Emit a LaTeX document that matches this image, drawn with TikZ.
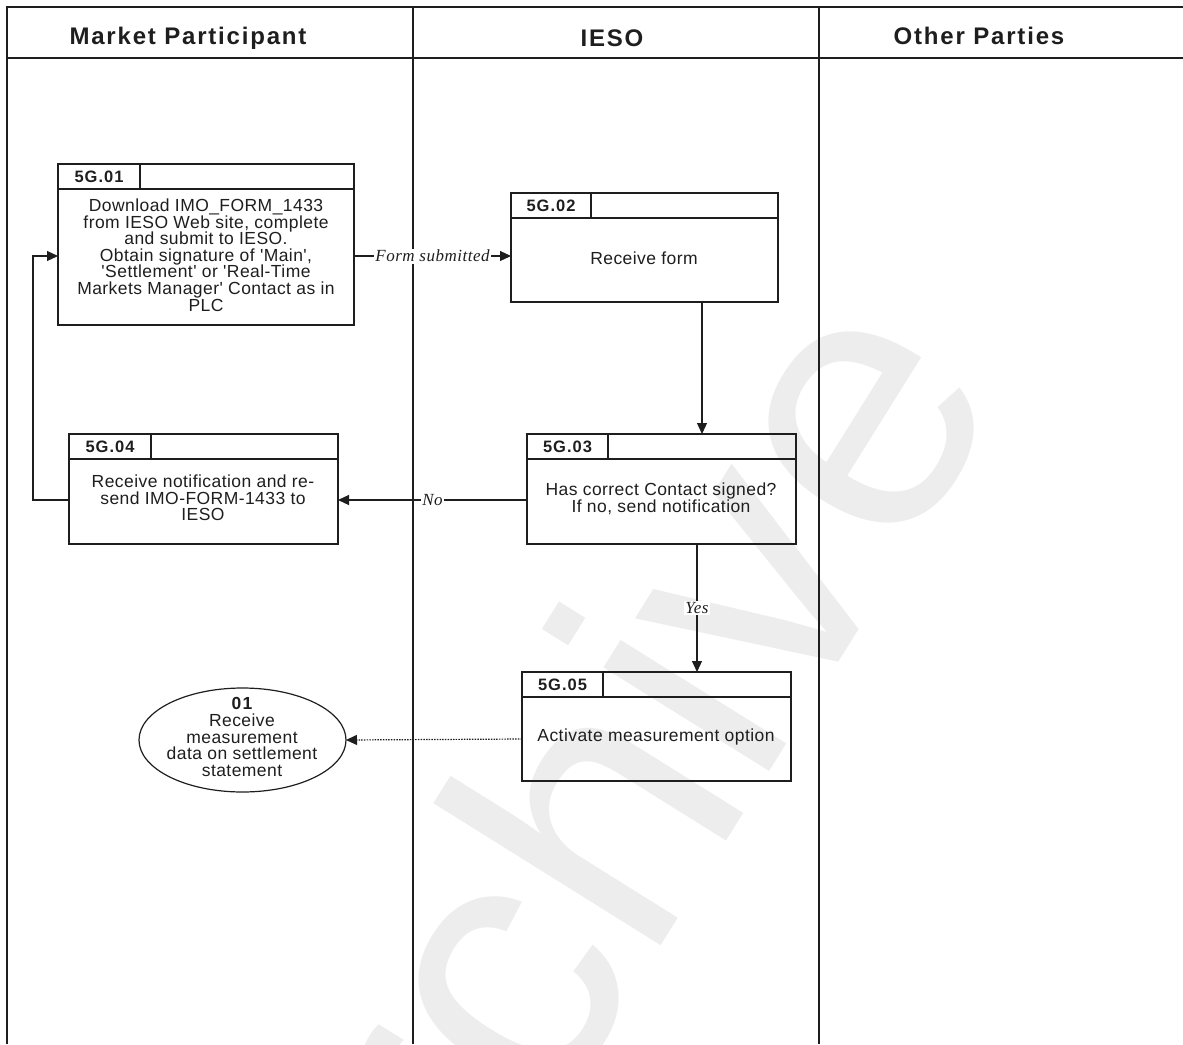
\documentclass[tikz,border=0pt]{standalone}
\usepackage{fontspec}
\setmainfont{Liberation Sans}
\newfontfamily\hdrfont[LetterSpace=7.5]{Liberation Sans}
\newfontfamily\idfont[LetterSpace=6]{Liberation Sans}
\newfontfamily\bodyfont[LetterSpace=2.5]{Liberation Sans}
\newfontfamily\serfont[LetterSpace=3]{Liberation Serif}
\newfontfamily\wmfont{Liberation Sans}
\usetikzlibrary{arrows.meta,shapes.geometric,calc}
\definecolor{wmgray}{RGB}{237,237,237}
\definecolor{ink}{RGB}{30,30,30}
\tikzset{
  lane/.style={line width=1.4pt, draw=ink},
  pbox/.style={draw=ink, line width=1.2pt, rectangle, inner sep=0pt, outer sep=0pt},
  boxline/.style={draw=ink, line width=1.2pt},
  hdrtxt/.style={font=\hdrfont\bfseries\fontsize{24}{24}\selectfont, inner sep=0pt, anchor=base, text=ink},
  idtxt/.style={font=\idfont\bfseries\fontsize{16.5}{16.5}\selectfont, inner sep=0pt, text=ink},
  bodytxt/.style={font=\bodyfont\fontsize{17.5}{16.6}\selectfont, align=center, inner sep=0pt, text=ink},
  arr/.style={line width=1.2pt, draw=ink, -{Triangle[length=11pt,width=10pt]}},
  dotarr/.style={line width=1.2pt, draw=ink, dash pattern=on 1.5pt off 1.2pt, -{Triangle[length=11pt,width=10pt]}},
  elabel/.style={font=\serfont\itshape\fontsize{17}{17}\selectfont, fill=white, inner sep=1.5pt, text=ink},
  endell/.style={draw=ink, line width=1.2pt, ellipse, inner sep=0pt, outer sep=0pt},
}
\begin{document}
\begin{tikzpicture}[x=1pt,y=-1pt]
\useasboundingbox (0,0) rectangle (1183,1044);
\clip (0,0) rectangle (1183,1044);
% watermark
\node[font=\wmfont\fontsize{370}{370}\selectfont, text=wmgray, anchor=base west, rotate=58, inner sep=0pt] (wm) at (353.6,1438) {Archive};
% lanes
\draw[lane] (7,1044) -- (7,7) -- (1183,7);
\draw[lane] (7,58) -- (1183,58);
\draw[lane] (413,7) -- (413,1044);
\draw[lane] (819,7) -- (819,1044);
\node[hdrtxt] (h1) at (188,44) {Market Participant};
\node[hdrtxt] (h2) at (612,46) {IESO};
\node[hdrtxt] (h3) at (979,44) {Other Parties};
% boxes
\node[pbox, minimum width=296, minimum height=161] (b1) at (206,244.5) {};
\node[pbox, minimum width=267, minimum height=109] (b2) at (644.5,247.5) {};
\node[pbox, minimum width=269, minimum height=110] (b3) at (661.5,489) {};
\node[pbox, minimum width=269, minimum height=110] (b4) at (203.5,489) {};
\node[pbox, minimum width=269, minimum height=109] (b5) at (656.5,726.5) {};
\foreach \n/\c/\t in {b1/82/5G.01, b2/80/5G.02, b3/81/5G.03, b4/82/5G.04, b5/81/5G.05} {
  \draw[boxline] ($(\n.north west)+(0,25)$) -- ($(\n.north east)+(0,25)$);
  \draw[boxline] ($(\n.north west)+(\c,0)$) -- ++(0,25);
  \node[idtxt] (\n id) at ($(\n.north west)+(\c/2,12.5)$) {\t};
}
\node[bodytxt] (t1) at (206,255) {Download IMO\_FORM\_1433\\from IESO Web site, complete\\and submit to IESO.\\Obtain signature of 'Main',\\'Settlement' or 'Real-Time\\Markets Manager' Contact as in\\PLC};
\node[bodytxt] (t2) at (644,258) {Receive form};
\node[bodytxt] (t3) at (661,499) {Has correct Contact signed?\\If no, send notification};
\node[bodytxt] (t4) at (203,498) {Receive notification and re-\\send IMO-FORM-1433 to\\IESO};
\node[bodytxt] (t5) at (656,737) {Activate measurement option};
% end ellipse
\node[endell, minimum width=207, minimum height=104] (e1) at (242.5,740) {};
\node[bodytxt] (et) at (242,737) {{\idfont\bfseries 01}\\Receive\\measurement\\data on settlement\\statement};
% connectors
\coordinate (f1) at ($(b1.north east)+(0,92)$);
\draw[arr] (f1) -- (f1 -| b2.west) node[elabel, pos=0.5] (l1) {Form submitted};
\coordinate (d1) at ($(b2.south west)+(191,0)$);
\draw[arr] (d1) -- (d1 |- b3.north);
\coordinate (n1) at ($(b3.north west)+(0,66)$);
\draw[arr] (n1) -- (n1 -| b4.east) node[elabel, pos=0.5] (l2) {No};
\coordinate (r1) at (n1 -| b4.west);
\coordinate (r2) at ($(r1)+(-36,0)$);
\draw[arr] (r1) -- (r2) |- (f1 -| b1.west);
\coordinate (y1) at ($(b3.south west)+(170,0)$);
\draw[arr] (y1) -- (y1 |- b5.north) node[elabel, pos=0.5] (l3) {Yes};
\coordinate (a1) at ($(b5.north west)+(0,67)$);
\draw[dotarr] (a1) -- (e1.east);
\end{tikzpicture}
\end{document}
